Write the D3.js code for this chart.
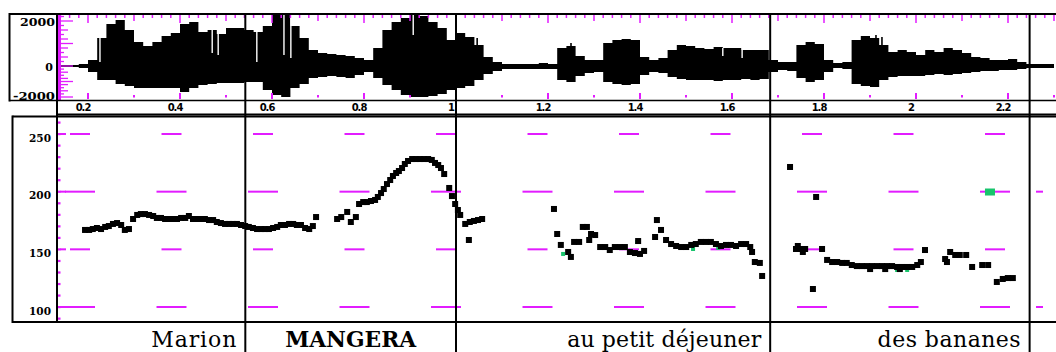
<!DOCTYPE html>
<html>
<head>
<meta charset="utf-8">
<script src="https://cdn.jsdelivr.net/npm/d3@7"></script>
<style>
  html, body { margin: 0; padding: 0; background: #fff; overflow: hidden; }
</style>
</head>
<body>
<div id="chart"></div>
<script>
// ---- waveform envelope (seconds, amplitude) ----
const waveTime = [0.14,0.16,0.18,0.20,0.22,0.24,0.26,0.28,0.30,0.32,0.34,0.36,0.38,0.40,0.42,0.44,0.46,0.48,0.50,0.52,
  0.54,0.56,0.58,0.60,0.62,0.64,0.66,0.68,0.70,0.72,0.74,0.76,0.78,0.80,0.82,0.84,0.86,0.88,0.90,0.92,
  0.94,0.96,0.98,1.00,1.02,1.04,1.06,1.08,1.10,1.12,1.14,1.16,1.18,1.20,1.22,1.24,1.26,1.28,1.30,1.32,
  1.34,1.36,1.38,1.40,1.42,1.44,1.46,1.48,1.50,1.52,1.54,1.56,1.58,1.60,1.62,1.64,1.66,1.68,1.70,1.72,
  1.74,1.76,1.78,1.80,1.82,1.84,1.86,1.88,1.90,1.92,1.94,1.96,1.98,2.00,2.02,2.04,2.06,2.08,2.10,2.12,
  2.14,2.16,2.18,2.20,2.22,2.24,2.26,2.28,2.30];
const waveMax = [40,40,90,270,1240,1870,2040,1600,1070,890,1070,1330,1470,1870,1960,1510,1600,1420,1690,1690,
  1600,1510,1780,2270,2270,1780,1240,710,580,530,490,440,360,270,800,1600,1960,2130,2270,2220,
  1960,1690,1160,1470,1290,930,400,180,90,90,90,90,130,90,800,890,440,270,270,1020,
  1160,1200,1160,400,270,360,710,930,890,800,760,840,800,800,710,710,710,270,180,180,
  930,1070,980,270,130,180,1160,1330,1240,930,620,710,620,490,710,620,800,710,580,400,
  360,270,270,310,180,90,90,90,90];
const waveMin = [-65,-65,-130,-390,-900,-900,-1160,-1290,-1420,-1420,-1420,-1420,-1420,-1680,-1420,-1230,-1160,-1100,-1100,-1100,
  -1030,-1030,-1550,-1870,-2000,-1420,-1160,-770,-710,-650,-710,-770,-580,-390,-770,-1230,-1550,-1870,-2000,-2000,
  -1940,-1810,-1550,-1420,-1290,-900,-520,-320,-190,-190,-190,-190,-190,-190,-900,-1030,-650,-450,-390,-1030,
  -1160,-1230,-1160,-580,-390,-450,-710,-840,-900,-900,-900,-970,-900,-900,-840,-900,-840,-390,-260,-320,
  -770,-1030,-900,-390,-130,-190,-1160,-1290,-1350,-900,-710,-650,-650,-650,-580,-520,-580,-520,-450,-390,
  -320,-320,-260,-260,-190,-130,-130,-130,-130];

// white streaks inside the envelope and black spikes above it
const gapTime = [0.226, 0.470, 0.483, 0.567, 0.626, 0.641, 0.907, 1.580, 1.622];
const gapHi   = [1240, 1730, 1730, 1510, 2270, 2270, 2270, 800, 710];
const gapLo   = [180, 580, 490, 180, 490, 360, 1380, 440, 360];
const spikeTime = [1.046, 1.250, 1.913, 1.926];
const spikeHi   = [1240, 1020, 1380, 1290];

// ---- pitch track (seconds, Hz) ----
const pitchTime = [
  0.211,0.220,0.228,0.237,0.246,0.255,0.263,0.272,0.281,0.290,0.298,0.307,0.316,0.325,0.333,0.342,0.351,0.360,0.368,0.377,
  0.386,0.395,0.403,0.412,0.421,0.430,0.438,0.447,0.456,0.464,0.473,0.482,0.491,0.499,0.508,0.517,0.526,0.534,0.543,0.552,
  0.561,0.569,0.578,0.587,0.596,0.604,0.613,0.622,0.631,0.639,0.648,0.657,0.666,0.674,0.683,0.692,0.701,0.709,0.716,
  0.762,0.771,0.784,0.792,0.803,0.810,0.819,0.827,0.836,0.845,0.851,0.858,0.864,0.871,0.878,0.884,0.891,0.897,0.904,0.910,
  0.917,0.926,0.934,0.943,0.952,0.961,0.969,0.976,0.983,0.989,0.996,1.007,1.013,1.020,1.026,1.031,1.042,1.052,1.050,1.061,
  1.070,1.079,
  1.236,1.243,1.251,1.267,1.273,1.280,1.291,1.299,1.308,1.313,1.317,1.326,1.337,1.348,1.358,1.369,1.380,1.391,1.402,1.413,
  1.424,1.433,1.420,1.457,1.461,1.470,1.481,1.492,1.503,1.514,1.525,1.536,1.546,1.557,1.568,1.579,1.590,1.601,1.612,1.623,
  1.634,1.645,1.656,1.665,1.669,1.675,1.686,1.691,
  1.752,1.765,1.769,1.774,1.780,1.785,1.802,1.809,1.822,1.833,1.844,1.855,1.866,1.876,1.887,1.898,1.909,1.920,1.927,1.931,
  1.942,1.953,1.960,1.964,1.975,1.986,1.992,1.997,2.008,2.019,2.030,2.038,2.047,2.091,2.095,2.102,2.113,2.123,2.137,2.150,
  2.172,2.185,2.204,2.217,2.228,2.239];
const pitchHz = [
  166.8,166.8,167.6,168.5,167.6,169.4,170.2,172.0,172.8,171.1,166.8,167.6,176.3,179.8,180.6,180.6,179.8,178.9,177.2,177.2,
  176.3,176.3,176.3,176.3,177.2,177.2,178.9,176.3,176.3,176.3,176.3,175.4,175.4,173.7,172.8,172.0,172.0,172.0,172.0,171.1,
  170.2,169.4,168.5,167.6,167.6,167.6,167.6,168.5,169.4,171.1,171.1,172.0,172.0,171.1,171.1,168.5,167.6,170.2,178.0,
  176.3,178.0,182.4,173.7,178.0,189.3,191.0,191.0,191.9,192.8,195.4,198.8,202.3,206.6,210.1,213.6,216.2,217.9,220.5,224.0,
  226.6,228.3,228.3,228.3,228.3,228.3,227.5,224.9,223.1,220.5,215.3,203.2,196.2,189.3,184.1,179.8,172.0,173.7,158.1,174.6,
  175.4,176.3,
  185.0,163.3,153.8,147.7,143.4,156.4,156.4,169.4,169.4,158.1,163.3,162.4,152.0,152.0,149.4,152.0,152.0,152.0,147.7,146.8,
  146.0,148.6,157.2,160.7,175.4,166.8,158.1,154.6,152.9,152.0,152.0,153.8,154.6,156.4,156.4,156.4,154.6,152.9,153.8,153.8,
  152.9,154.6,154.6,152.0,147.7,139.0,138.2,126.9,
  221.4,150.3,152.9,150.3,147.7,150.3,115.6,195.4,150.3,140.8,139.0,139.0,138.2,138.2,136.4,135.5,135.5,135.5,132.9,135.5,
  135.5,135.5,132.9,135.5,135.5,134.7,132.9,134.7,134.7,134.7,136.4,139.0,149.4,141.6,139.0,147.7,145.1,145.1,145.1,134.7,
  136.4,136.4,121.7,124.3,125.1,125.1];

// secondary (green) pitch candidates
const greenTime = [1.256, 1.418, 1.540, 1.595, 1.986, 2.008];
const greenHz   = [146.0, 156.4, 150.3, 151.2, 132.1, 132.1];
const bigGreenTime = [2.189];
const bigGreenHz   = [199.7];

// ---- axes / labels ----
const timeTicks  = [0.2, 0.4, 0.6, 0.8, 1.0, 1.2, 1.4, 1.6, 1.8, 2.0, 2.2];
const timeLabels = ["0.2", "0.4", "0.6", "0.8", "1", "1.2", "1.4", "1.6", "1.8", "2", "2.2"];
const ampTicks   = [2000, 0, -2000];
const ampLabels  = ["2000", "0", "-2000"];
const hzTicks    = [250, 200, 150, 100];
const hzLabels   = ["250", "200", "150", "100"];
const wordBounds = [0.542, 1.0, 1.683, 2.247];
const words      = ["Marion", "MANGERA", "au petit déjeuner", "des bananes"];

const MAG = "#e21cff", GREEN = "#18c46c";

const svg = d3.select("#chart").append("svg")
  .attr("width", 1056).attr("height", 352)
  .style("display", "block");

// scales
const xW = d3.scaleLinear().domain([0.2, 2.2]).range([88, 1008]);
const xP = d3.scaleLinear().domain([0.2, 2.2]).range([80, 995]);
const yW = d3.scaleLinear().domain([-2000, 0, 2000]).range([97, 66, 21]);
const yP = d3.scaleLinear().domain([100, 250]).range([307, 134]);

const defs = svg.append("defs");
defs.append("clipPath").attr("id", "clipW").append("rect")
  .attr("x", 58).attr("y", 15).attr("width", 1000).attr("height", 85);
defs.append("clipPath").attr("id", "clipP").append("rect")
  .attr("x", 58).attr("y", 117).attr("width", 1000).attr("height", 204);

// ---- waveform ----
const wave = waveTime.map((t, i) => ({t: t, hi: waveMax[i], lo: waveMin[i]}));
const gW = svg.append("g").attr("clip-path", "url(#clipW)");

gW.append("path")
  .datum(wave)
  .attr("d", d3.area().curve(d3.curveStepAfter)
    .x(d => xW(d.t)).y0(d => yW(d.lo)).y1(d => yW(d.hi)))
  .attr("fill", "#000");

gW.selectAll(".spike")
  .data(spikeTime.map((t, i) => ({t: t, v: spikeHi[i]})))
  .enter().append("line")
  .attr("x1", d => xW(d.t)).attr("x2", d => xW(d.t))
  .attr("y1", yW(0)).attr("y2", d => yW(d.v))
  .attr("stroke", "#000").attr("stroke-width", 1.6);

gW.selectAll(".gap")
  .data(gapTime.map((t, i) => ({t: t, hi: gapHi[i], lo: gapLo[i]})))
  .enter().append("line")
  .attr("x1", d => xW(d.t)).attr("x2", d => xW(d.t))
  .attr("y1", d => yW(d.hi)).attr("y2", d => yW(d.lo))
  .attr("stroke", "#fff").attr("stroke-width", 1.4);

// magenta ruler on the waveform
const smallTicks = d3.range(7, 116).map(i => ({i: i, t: i / 50}));
svg.append("g").selectAll("line")
  .data(smallTicks)
  .enter().append("line")
  .attr("x1", d => xW(d.t)).attr("x2", d => xW(d.t))
  .attr("y1", 15)
  .attr("y2", d => 15 + (d.i % 10 === 0 ? 8 : d.i % 5 === 0 ? 6 : 3))
  .attr("stroke", MAG).attr("stroke-width", 1.5);

svg.append("g").selectAll("line")
  .data(smallTicks.filter(d => d.i % 5 === 0))
  .enter().append("line")
  .attr("x1", d => xW(d.t)).attr("x2", d => xW(d.t))
  .attr("y1", d => d.i % 10 === 0 ? 93 : 95)
  .attr("y2", d => d.i % 10 === 0 ? 99 : 97.5)
  .attr("stroke", MAG).attr("stroke-width", 2);

svg.append("rect").attr("x", 58).attr("y", 15).attr("width", 3).attr("height", 85).attr("fill", MAG);
svg.append("g").selectAll("line")
  .data(d3.range(-2000, 2201, 200))
  .enter().append("line")
  .attr("x1", 58)
  .attr("x2", d => 58 + (d % 1000 === 0 ? 15 : d % 400 === 0 ? 10 : 6))
  .attr("y1", d => yW(d)).attr("y2", d => yW(d))
  .attr("stroke", MAG).attr("stroke-width", 1.3);

// ---- pitch panel grid ----
const gGrid = svg.append("g").attr("clip-path", "url(#clipP)");
hzTicks.forEach(v => {
  const w = v % 100 === 0 ? 30 : 20;
  gGrid.selectAll(null)
    .data(timeTicks)
    .enter().append("line")
    .attr("x1", t => xP(t) - w / 2).attr("x2", t => xP(t) + w / 2)
    .attr("y1", yP(v)).attr("y2", yP(v))
    .attr("stroke", MAG).attr("stroke-width", 2);
  gGrid.append("line")
    .attr("x1", 60).attr("x2", 66).attr("y1", yP(v)).attr("y2", yP(v))
    .attr("stroke", MAG).attr("stroke-width", 2);
  if (v % 100 === 0) {
    gGrid.append("line")
      .attr("x1", 1036).attr("x2", 1043).attr("y1", yP(v)).attr("y2", yP(v))
      .attr("stroke", MAG).attr("stroke-width", 2);
  }
});
svg.append("g").selectAll("rect")
  .data(d3.range(90, 261, 10))
  .enter().append("rect")
  .attr("x", 58).attr("y", d => yP(d) - 1)
  .attr("width", 2.5).attr("height", 2.2)
  .attr("fill", MAG);

// ---- pitch points ----
const gPts = svg.append("g").attr("clip-path", "url(#clipP)");
gPts.selectAll(".g")
  .data(greenTime.map((t, i) => ({t: t, f: greenHz[i]})))
  .enter().append("rect")
  .attr("x", d => xP(d.t) - 2).attr("y", d => yP(d.f) - 2)
  .attr("width", 4).attr("height", 4)
  .attr("fill", GREEN);

gPts.selectAll(".p")
  .data(pitchTime.map((t, i) => ({t: t, f: pitchHz[i]})))
  .enter().append("rect")
  .attr("x", d => xP(d.t) - 3).attr("y", d => yP(d.f) - 3)
  .attr("width", 6).attr("height", 6)
  .attr("fill", "#000");

gPts.selectAll(".bg")
  .data(bigGreenTime.map((t, i) => ({t: t, f: bigGreenHz[i]})))
  .enter().append("rect")
  .attr("x", d => xP(d.t) - 5).attr("y", d => yP(d.f) - 3.5)
  .attr("width", 10).attr("height", 7)
  .attr("fill", GREEN);

// ---- frames ----
const frame = svg.append("g").attr("stroke", "#000").attr("fill", "none");
frame.append("line").attr("x1", 9.5).attr("x2", 1056).attr("y1", 14).attr("y2", 14).attr("stroke-width", 2);
frame.append("line").attr("x1", 9.5).attr("x2", 9.5).attr("y1", 13).attr("y2", 101.5).attr("stroke-width", 2);
frame.append("line").attr("x1", 9.5).attr("x2", 1056).attr("y1", 100.5).attr("y2", 100.5).attr("stroke-width", 1.6);
frame.append("line").attr("x1", 57).attr("x2", 57).attr("y1", 13).attr("y2", 323).attr("stroke-width", 2);
frame.append("line").attr("x1", 57).attr("x2", 1056).attr("y1", 114.5).attr("y2", 114.5).attr("stroke-width", 2);
frame.append("line").attr("x1", 12.5).attr("x2", 1056).attr("y1", 116.5).attr("y2", 116.5).attr("stroke-width", 2);
frame.append("line").attr("x1", 12.5).attr("x2", 12.5).attr("y1", 115.5).attr("y2", 323).attr("stroke-width", 2);
frame.append("line").attr("x1", 12.5).attr("x2", 1056).attr("y1", 322).attr("y2", 322).attr("stroke-width", 2);
frame.selectAll(".sep")
  .data(wordBounds)
  .enter().append("line")
  .attr("x1", d => xW(d)).attr("x2", d => xW(d))
  .attr("y1", 13).attr("y2", 352)
  .attr("stroke-width", 2);

// ---- axis labels ----
svg.append("g").selectAll("text")
  .data(timeTicks)
  .enter().append("text")
  .attr("x", d => xW(d) - 5).attr("y", 107.5)
  .attr("text-anchor", "middle").attr("dominant-baseline", "central")
  .attr("font-family", "DejaVu Sans").attr("font-weight", "bold").attr("font-size", 10)
  .attr("letter-spacing", -1)
  .text((d, i) => timeLabels[i]);

svg.append("g").selectAll("text")
  .data(ampTicks)
  .enter().append("text")
  .attr("x", d => d === 0 ? 53 : 55).attr("y", d => d === -2000 ? 96 : yW(d) + 1)
  .attr("text-anchor", "end").attr("dominant-baseline", "central")
  .attr("font-family", "DejaVu Serif").attr("font-weight", "bold").attr("font-size", 11)
  .attr("textLength", d => d === 0 ? null : d > 0 ? 35 : 42)
  .attr("lengthAdjust", "spacingAndGlyphs")
  .text((d, i) => ampLabels[i]);

svg.append("g").selectAll("text")
  .data(hzTicks)
  .enter().append("text")
  .attr("x", 51).attr("y", d => yP(d) + 4)
  .attr("text-anchor", "end").attr("dominant-baseline", "central")
  .attr("font-family", "DejaVu Serif").attr("font-weight", "bold").attr("font-size", 11)
  .attr("textLength", 22).attr("lengthAdjust", "spacingAndGlyphs")
  .text((d, i) => hzLabels[i]);

// ---- words ----
const wordWidth = [85, 131, 194, 143];
svg.append("g").selectAll("text")
  .data(words)
  .enter().append("text")
  .attr("x", (d, i) => i === 1 ? (xW(wordBounds[0]) + xW(wordBounds[1])) / 2 : xW(wordBounds[i]) - 9)
  .attr("y", 347)
  .attr("text-anchor", (d, i) => i === 1 ? "middle" : "end")
  .attr("font-family", "DejaVu Serif")
  .attr("font-weight", (d, i) => i === 1 ? "bold" : "normal")
  .attr("font-size", 22)
  .attr("textLength", (d, i) => wordWidth[i])
  .attr("lengthAdjust", (d, i) => i === 1 ? "spacingAndGlyphs" : "spacing")
  .attr("fill", "#000")
  .text(d => d);
</script>
</body>
</html>
